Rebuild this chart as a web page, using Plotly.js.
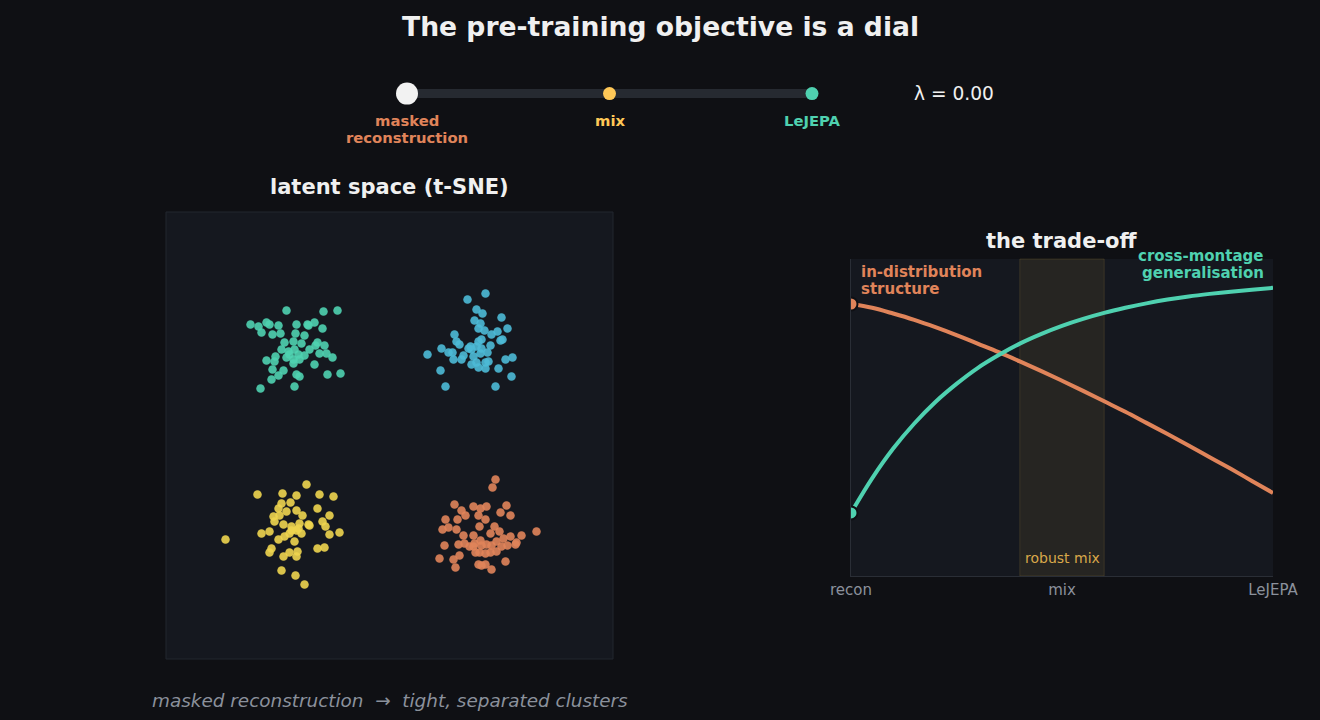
<!DOCTYPE html>
<html>
<head>
<meta charset="utf-8">
<script src="https://cdn.plot.ly/plotly-3.0.1.min.js"></script>
<style>
  html, body { margin: 0; padding: 0; background: #0f1014; }
  #chart { width: 1320px; height: 720px; }
</style>
</head>
<body>
<div id="chart"></div>
<script>
// ---- latent space (t-SNE embedding, four clusters) ----
const tealX = [-10.3,-6.6,-5.2,-13.9,-13.1,-12.3,-12.0,-12.8,-11.1,-9.3,-8.2,-7.5,-8.1,-6.7,-11.7,-10.9,-9.4,-8.5,-10.5,-9.6,-8.8,-7.2,-6.5,-7.4,-10.8,-10.1,-9.5,-8.0,-7.0,-6.3,-5.7,-11.4,-12.3,-11.5,-10.3,-9.6,-9.0,-8.5,-9.6,-7.5,-11.7,-10.6,-11.1,-11.8,-9.3,-9.0,-6.2,-4.9,-12.9,-9.5,-10.0,-9.1];
const tealY = [12.5,12.4,12.5,11.1,10.9,11.3,11.1,10.3,11.0,11.1,11.1,11.3,11.0,10.7,10.1,10.2,10.2,10.0,9.3,9.4,9.2,9.3,9.0,9.0,8.6,8.4,8.6,8.6,8.2,8.2,7.8,7.9,7.5,7.4,7.8,7.6,7.6,8.0,7.2,7.1,6.6,6.5,6.0,5.6,6.1,5.9,6.1,6.2,4.7,4.9,8.1,8.1];

const blueX = [7.8,9.6,8.7,9.3,8.5,11.2,9.1,8.9,9.5,10.2,10.8,11.8,11.3,11.1,6.5,6.7,7.0,5.2,3.8,5.9,6.3,6.4,7.2,7.4,8.1,8.2,8.9,9.2,10.1,9.2,8.4,9.1,9.8,8.7,8.2,8.9,9.6,9.6,9.9,11.6,12.3,5.1,10.9,12.2,5.6,10.6,7.9,8.7];
const blueY = [13.6,14.2,12.6,12.2,11.5,11.8,11.2,10.7,10.5,10.1,10.4,10.7,9.6,9.5,10.1,9.4,9.1,8.7,8.1,8.3,8.3,7.6,7.6,8.0,8.9,8.6,9.4,9.6,9.0,8.7,7.9,8.2,8.3,7.3,7.1,6.8,6.7,7.3,7.4,7.6,7.8,6.5,6.7,5.9,4.9,4.9,8.7,8.9];

const yellowX = [-8.3,-13.2,-10.7,-9.3,-7.0,-5.6,-10.8,-9.9,-11.1,-10.3,-9.3,-7.2,-11.6,-11.0,-8.7,-6.0,-11.5,-10.6,-9.8,-9.0,-8.0,-6.7,-6.4,-12.8,-12.0,-11.1,-10.5,-10.0,-9.3,-8.8,-8.1,-6.0,-5.0,-9.5,-11.8,-12.0,-10.6,-10.0,-9.2,-9.3,-7.2,-6.5,-16.4,-10.8,-9.4,-8.5,-9.8,-9.1];
const yellowY = [-4.9,-5.9,-5.8,-6.0,-5.9,-6.1,-6.8,-6.7,-7.3,-7.6,-7.5,-7.3,-8.1,-8.0,-8.0,-8.0,-8.6,-8.9,-9.1,-8.8,-9.0,-8.6,-9.1,-9.8,-9.6,-10.4,-10.1,-9.8,-9.5,-9.8,-8.9,-9.9,-9.7,-10.6,-11.3,-11.7,-12.1,-11.7,-11.6,-12.1,-11.3,-11.2,-10.4,-13.5,-14.0,-14.9,-9.5,-9.3];

const orangeX = [10.6,10.3,6.5,7.2,7.6,8.4,9.1,9.7,8.9,9.6,11.1,11.7,12.1,5.6,6.8,5.3,5.9,6.7,9.0,7.4,8.4,9.1,10.1,10.5,11.0,11.4,12.1,13.2,14.7,5.5,6.9,7.5,8.0,8.5,9.2,9.7,10.2,10.7,11.2,11.8,12.6,12.7,8.6,9.0,9.6,10.1,10.7,7.0,6.4,5.0,6.6,8.9,9.6,10.2,11.6,9.2,8.4];
const orangeY = [-4.4,-5.2,-6.9,-7.5,-8.0,-7.1,-7.3,-7.1,-8.0,-8.4,-7.7,-7.0,-8.0,-8.4,-8.4,-9.4,-9.2,-9.4,-9.1,-10.0,-10.0,-10.5,-9.8,-9.1,-9.6,-10.3,-10.1,-10.0,-9.6,-11.0,-10.9,-10.8,-11.1,-10.8,-11.0,-10.9,-11.0,-10.6,-11.1,-11.0,-10.9,-10.7,-11.7,-11.7,-11.8,-11.7,-11.6,-12.0,-12.4,-12.3,-13.2,-12.9,-12.9,-13.4,-12.6,-13.0,-11.1];

// ---- the trade-off curves along the dial ----
const dialPos = [0,0.05,0.1,0.15,0.2,0.25,0.3,0.35,0.4,0.45,0.5,0.55,0.6,0.65,0.7,0.75,0.8,0.85,0.9,0.95,1];
const inDistScore = [0.858,0.846,0.828,0.808,0.785,0.760,0.733,0.706,0.677,0.647,0.616,0.584,0.551,0.518,0.483,0.448,0.412,0.375,0.338,0.300,0.262];
const crossMontageScore = [0.199,0.308,0.402,0.481,0.549,0.606,0.656,0.697,0.733,0.763,0.789,0.811,0.830,0.846,0.860,0.872,0.882,0.890,0.897,0.903,0.909];
const robustBand = [0.4, 0.6];
const dialTickVals = [0, 0.5, 1];
const dialTickText = ['recon', 'mix', 'LeJEPA'];
const inDistLabel = ['in-distribution', 'structure'];
const crossLabel = ['cross-montage', 'generalisation'];

// ---- dial (slider) ----
const stopVals = [0, 0.5, 1];
const stopLabels = [['masked', 'reconstruction'], ['mix'], ['LeJEPA']];
const lambda = 0.00;

const C = {
  bg: '#0f1014', panel: '#15181f', border: '#23262e', axis: '#2a2e36',
  teal: '#4fd1b0', blue: '#4cbad6', yellow: '#eed54f', orange: '#e0845a',
  gold: '#ffc857', muted: '#8b919c', text: '#f0f0f0', track: '#262a31'
};
const F = 'DejaVu Sans, Verdana, sans-serif';
const stopColors = [C.orange, C.gold, C.teal];

function cluster(x, y, color) {
  return { type: 'scatter', mode: 'markers', x: x, y: y, xaxis: 'x', yaxis: 'y',
    marker: { size: 8.5, color: color, opacity: 0.9, line: { width: 0 } }, hoverinfo: 'skip' };
}

const traces = [
  cluster(tealX, tealY, C.teal),
  cluster(blueX, blueY, C.blue),
  cluster(yellowX, yellowY, C.yellow),
  cluster(orangeX, orangeY, C.orange),
  // trade-off curves
  { type: 'scatter', mode: 'lines', x: dialPos, y: inDistScore, xaxis: 'x2', yaxis: 'y2',
    line: { color: C.orange, width: 4, shape: 'spline' }, hoverinfo: 'skip' },
  { type: 'scatter', mode: 'lines', x: dialPos, y: crossMontageScore, xaxis: 'x2', yaxis: 'y2',
    line: { color: C.teal, width: 4, shape: 'spline' }, hoverinfo: 'skip' },
  // current dial position on both curves
  { type: 'scatter', mode: 'markers', xaxis: 'x2', yaxis: 'y2',
    x: [lambda, lambda],
    y: [inDistScore[dialPos.indexOf(lambda)], crossMontageScore[dialPos.indexOf(lambda)]],
    marker: { size: 13, color: [C.orange, C.teal], line: { color: C.bg, width: 2 } }, hoverinfo: 'skip' },
  // dial track
  { type: 'scatter', mode: 'lines', x: [stopVals[0], stopVals[stopVals.length - 1]], y: [0, 0],
    xaxis: 'x3', yaxis: 'y3', cliponaxis: false,
    line: { color: C.track, width: 9 }, hoverinfo: 'skip' },
  // dial stops
  { type: 'scatter', mode: 'markers', x: stopVals, y: stopVals.map(() => 0),
    xaxis: 'x3', yaxis: 'y3', cliponaxis: false,
    marker: { size: 13, color: stopColors, line: { width: 0 } }, hoverinfo: 'skip' },
  // dial knob
  { type: 'scatter', mode: 'markers', x: [lambda], y: [0],
    xaxis: 'x3', yaxis: 'y3', cliponaxis: false,
    marker: { size: 22, color: '#f2f2f2', line: { width: 0 } }, hoverinfo: 'skip' }
];

const annotations = [
  { text: '<b>The pre-training objective is a dial</b>', xref: 'paper', yref: 'paper',
    x: 0.5, y: 1 - 26.5 / 720, xanchor: 'center', yanchor: 'middle', showarrow: false,
    font: { family: F, size: 26.6, color: C.text } },
  { text: 'λ = ' + lambda.toFixed(2), xref: 'paper', yref: 'paper',
    x: 912 / 1320, y: 1 - 93.5 / 720, xanchor: 'left', yanchor: 'middle', showarrow: false,
    font: { family: F, size: 18.6, color: C.text } },
  { text: '<b>latent space (t-SNE)</b>', xref: 'x domain', yref: 'paper',
    x: 0.5, y: 1 - 187 / 720, xanchor: 'center', yanchor: 'middle', showarrow: false,
    font: { family: F, size: 21, color: C.text } },
  { text: '<b>the trade-off</b>', xref: 'x2 domain', yref: 'paper',
    x: 0.5, y: 1 - 241 / 720, xanchor: 'center', yanchor: 'middle', showarrow: false,
    font: { family: F, size: 21, color: C.text } },
  { text: 'robust mix', xref: 'x2', yref: 'y2 domain',
    x: (robustBand[0] + robustBand[1]) / 2, y: 0, yshift: 8, xanchor: 'center', yanchor: 'bottom', showarrow: false,
    font: { family: F, size: 14, color: '#d9a84a' } },
  { text: '<i>masked reconstruction\u00a0\u00a0→\u00a0\u00a0tight, separated clusters</i>', xref: 'x domain', yref: 'paper',
    x: 0.5, y: 1 - 700 / 720, xanchor: 'center', yanchor: 'middle', showarrow: false,
    font: { family: F, size: 18.4, color: C.muted } }
];
// curve labels, one annotation per line for tight line spacing
inDistLabel.forEach((t, k) => annotations.push({ text: '<b>' + t + '</b>', xref: 'x2', yref: 'y2 domain',
  x: 0, y: 1, xshift: 8, yshift: -13 - 17 * k, xanchor: 'left', yanchor: 'middle', showarrow: false,
  font: { family: F, size: 15, color: C.orange } }));
crossLabel.forEach((t, k) => annotations.push({ text: '<b>' + t + '</b>', xref: 'x2', yref: 'y2 domain',
  x: 1, y: 1, xshift: -7, yshift: 3 - 17 * k, xanchor: 'right', yanchor: 'middle', showarrow: false,
  font: { family: F, size: 15, color: C.teal } }));
// dial stop labels
stopVals.forEach((v, i) => {
  stopLabels[i].forEach((t, k) => annotations.push({ text: '<b>' + t + '</b>', xref: 'x3', yref: 'y3',
    x: v, y: 0, yshift: -27 - 17 * k, xanchor: 'center', yanchor: 'middle', showarrow: false,
    font: { family: F, size: 14.8, color: stopColors[i] } }));
});

const layout = {
  width: 1320, height: 720,
  margin: { l: 0, r: 0, t: 0, b: 0 },
  paper_bgcolor: C.bg, plot_bgcolor: 'rgba(0,0,0,0)',
  showlegend: false, hovermode: false,
  font: { family: F, color: C.text },
  xaxis: { domain: [166 / 1320, 613 / 1320], range: [-22.35, 22.35], showgrid: false, zeroline: false,
    showticklabels: false, ticks: '', fixedrange: true },
  yaxis: { domain: [1 - 659 / 720, 1 - 212 / 720], range: [-22.35, 22.35], showgrid: false, zeroline: false,
    showticklabels: false, ticks: '', fixedrange: true },
  xaxis2: { domain: [851 / 1320, 1273 / 1320], range: [0, 1], showgrid: false, zeroline: false,
    tickvals: dialTickVals, ticktext: dialTickText, ticks: '',
    tickfont: { family: F, size: 15, color: C.muted },
    showline: true, linecolor: C.axis, linewidth: 1, anchor: 'y2', fixedrange: true },
  yaxis2: { domain: [1 - 576 / 720, 1 - 259 / 720], range: [0, 1], showgrid: false, zeroline: false,
    showticklabels: false, ticks: '', showline: true, linecolor: C.axis, linewidth: 1, anchor: 'x2', fixedrange: true },
  xaxis3: { domain: [407 / 1320, 812 / 1320], range: [0, 1], visible: false, fixedrange: true, anchor: 'y3' },
  yaxis3: { domain: [0.85, 0.89], range: [-1, 1], visible: false, fixedrange: true, anchor: 'x3' },
  shapes: [
    { type: 'rect', xref: 'x domain', yref: 'y domain', x0: 0, x1: 1, y0: 0, y1: 1,
      fillcolor: C.panel, line: { color: C.border, width: 1 }, layer: 'below' },
    { type: 'rect', xref: 'x2 domain', yref: 'y2 domain', x0: 0, x1: 1, y0: 0, y1: 1,
      fillcolor: C.panel, line: { width: 0 }, layer: 'below' },
    { type: 'rect', xref: 'x2', yref: 'y2 domain', x0: robustBand[0], x1: robustBand[1], y0: 0, y1: 1,
      fillcolor: 'rgba(255,200,87,0.075)', line: { color: 'rgba(255,200,87,0.13)', width: 1 }, layer: 'below' }
  ],
  annotations: annotations
};

Plotly.newPlot('chart', traces, layout, { displayModeBar: false, staticPlot: true });
</script>
</body>
</html>
